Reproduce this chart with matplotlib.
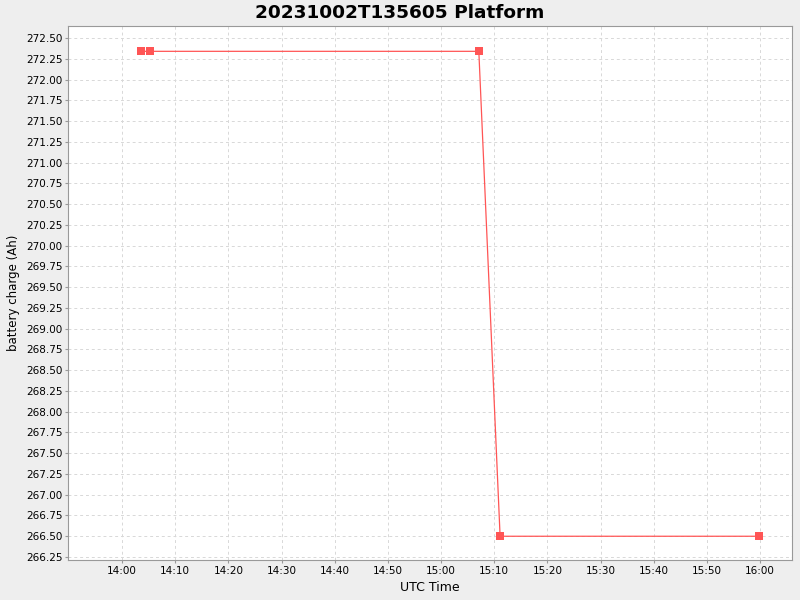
import datetime as dt
import matplotlib
matplotlib.use("Agg")
import matplotlib.pyplot as plt
import matplotlib.dates as mdates

# readings (UTC time, battery charge in Ah)
times = ["2023-10-02 14:03:34", "2023-10-02 14:05:16", "2023-10-02 15:07:06",
         "2023-10-02 15:11:06", "2023-10-02 15:59:50"]
charge = [272.34, 272.34, 272.34, 266.50, 266.50]

x_ticks = ["14:00", "14:10", "14:20", "14:30", "14:40", "14:50", "15:00",
           "15:10", "15:20", "15:30", "15:40", "15:50", "16:00"]
y_ticks = [266.25 + 0.25 * i for i in range(26)]

t = [dt.datetime.strptime(s, "%Y-%m-%d %H:%M:%S") for s in times]
day = "2023-10-02 "

fig = plt.figure(figsize=(8, 6), dpi=100, facecolor="#eeeeee")
ax = fig.add_axes([68 / 800, 40 / 600, 724 / 800, 534 / 600])
ax.set_facecolor("white")

ax.plot(t, charge, color="#ff5555", linewidth=0.9, marker="s", markersize=5.5,
        markeredgewidth=0, zorder=3)

ax.set_xlim(dt.datetime(2023, 10, 2, 13, 49, 50), dt.datetime(2023, 10, 2, 16, 6, 0))
ax.set_ylim(266.214, 272.645)
ax.set_xticks([dt.datetime.strptime(day + s, "%Y-%m-%d %H:%M") for s in x_ticks])
ax.xaxis.set_major_formatter(mdates.DateFormatter("%H:%M"))
ax.set_yticks(y_ticks)
ax.set_yticklabels(["%.2f" % v for v in y_ticks])

ax.grid(True, color="#d8d8d8", linestyle=(0, (3, 3)), linewidth=0.7)
ax.tick_params(labelsize=7.5, length=2, color="#999999", pad=2)
for s in ax.spines.values():
    s.set_color("#999999")

ax.set_xlabel("UTC Time", fontsize=9, labelpad=4)
ax.set_ylabel("battery charge (Ah)", fontsize=8.5, labelpad=4)
fig.text(0.5, 0.979, "20231002T135605 Platform", ha="center", va="center",
         fontsize=13.3, fontweight="bold")

fig.savefig("out.png", dpi=100, facecolor=fig.get_facecolor())
